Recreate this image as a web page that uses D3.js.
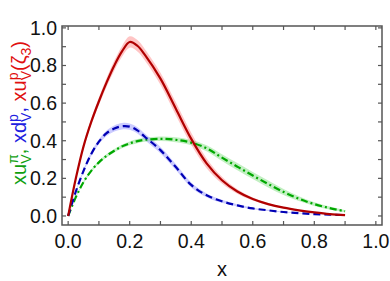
<!DOCTYPE html>
<html><head><meta charset="utf-8">
<script src="https://cdn.jsdelivr.net/npm/d3@7"></script>
<style>body{margin:0;background:#fff}svg{display:block}text{font-family:"Liberation Sans",Arial,sans-serif}</style>
</head><body><svg id="c" width="390" height="281"></svg>
<script>
const xs      = [0,0.025,0.05,0.075,0.1,0.125,0.15,0.175,0.2,0.225,0.25,0.3,0.35,0.4,0.45,0.5,0.55,0.6,0.65,0.7,0.75,0.8,0.85,0.9];
const protonU = [0,0.2,0.37,0.5,0.61,0.71,0.8,0.875,0.925,0.905,0.855,0.73,0.57,0.41,0.28,0.19,0.13,0.09,0.063,0.044,0.03,0.019,0.01,0.005];
const protonUErr = [0,0.008,0.012,0.016,0.02,0.023,0.026,0.028,0.03,0.03,0.03,0.032,0.034,0.032,0.026,0.018,0.012,0.008,0.006,0.004,0.003,0.002,0.002,0.001];
const protonD = [0,0.13,0.24,0.33,0.395,0.44,0.465,0.477,0.475,0.455,0.42,0.35,0.26,0.165,0.11,0.078,0.056,0.04,0.03,0.021,0.015,0.01,0.007,0.005];
const protonDErr = [0,0.005,0.008,0.011,0.013,0.015,0.016,0.017,0.017,0.017,0.017,0.017,0.016,0.013,0.01,0.008,0.006,0.004,0.003,0.002,0.002,0.001,0.001,0.001];
const pionU   = [0,0.1,0.18,0.24,0.285,0.32,0.347,0.37,0.386,0.398,0.405,0.41,0.405,0.39,0.36,0.31,0.262,0.215,0.17,0.128,0.092,0.063,0.042,0.025];
const pionUErr = [0,0.004,0.006,0.007,0.008,0.009,0.009,0.01,0.01,0.011,0.011,0.012,0.013,0.014,0.016,0.018,0.019,0.019,0.018,0.016,0.013,0.01,0.008,0.006];
const xTicks = [0,0.2,0.4,0.6,0.8,1.0];
const yTicks = [0,0.2,0.4,0.6,0.8,1.0];
const minorTicks = [0,0.1,0.2,0.3,0.4,0.5,0.6,0.7,0.8,0.9,1.0];

const svg = d3.select("#c");
const L=62,R=382,T=26,B=225;
const x = d3.scaleLinear().domain([-0.02,1.02]).range([L,R]);
const y = d3.scaleLinear().domain([-0.048,1.01]).range([B,T]);

const series = [
  {v:pionU, e:pionUErr, line:"#00a800", band:"rgba(120,220,120,0.45)", dash:"7,3,2,3"},
  {v:protonD, e:protonDErr, line:"#0000b4", band:"rgba(140,140,255,0.45)", dash:"7,4"},
  {v:protonU, e:protonUErr, line:"#b00000", band:"rgba(255,140,140,0.5)", dash:null}
];
svg.append("clipPath").attr("id","cp").append("rect").attr("x",L).attr("y",T).attr("width",R-L).attr("height",B-T);
const g = svg.append("g").attr("clip-path","url(#cp)");
const crv = d3.curveCatmullRom.alpha(0.5);
const area = d3.area().x((d,i)=>x(xs[i])).curve(crv);
const line = d3.line().x((d,i)=>x(xs[i])).y(d=>y(d)).curve(crv);
series.forEach(s=>{
  g.append("path").datum(s.v)
    .attr("d", area.y0((d,i)=>y(d-s.e[i])).y1((d,i)=>y(d+s.e[i])))
    .attr("fill", s.band);
});
series.forEach(s=>{
  g.append("path").datum(s.v).attr("d", line)
    .attr("fill","none").attr("stroke",s.line).attr("stroke-width",2.2)
    .attr("stroke-dasharray", s.dash);
});

// frame
const axc = "#555";
svg.append("rect").attr("x",L).attr("y",T).attr("width",R-L).attr("height",B-T)
  .attr("fill","none").attr("stroke",axc).attr("stroke-width",1.5);
const tl = 4;
minorTicks.forEach(t=>{
  svg.append("line").attr("x1",x(t)).attr("x2",x(t)).attr("y1",B).attr("y2",B-tl).attr("stroke",axc).attr("stroke-width",1.2);
  svg.append("line").attr("x1",x(t)).attr("x2",x(t)).attr("y1",T).attr("y2",T+tl).attr("stroke",axc).attr("stroke-width",1.2);
  svg.append("line").attr("y1",y(t)).attr("y2",y(t)).attr("x1",L).attr("x2",L+tl).attr("stroke",axc).attr("stroke-width",1.2);
  svg.append("line").attr("y1",y(t)).attr("y2",y(t)).attr("x1",R).attr("x2",R-tl).attr("stroke",axc).attr("stroke-width",1.2);
});
xTicks.forEach(t=>{
  svg.append("text").attr("x",x(t)).attr("y",248).attr("text-anchor","middle")
    .attr("font-size",19.5).attr("fill","#111").text(t.toFixed(1));
});
yTicks.forEach(t=>{
  svg.append("text").attr("x",57).attr("y",y(t)+7).attr("text-anchor","end")
    .attr("font-size",19.5).attr("fill","#111").text(t.toFixed(1));
});
svg.append("text").attr("x",x(0.5)).attr("y",276).attr("text-anchor","middle")
  .attr("font-size",20).attr("fill","#111").text("x");

// y label with stacked sub/superscripts
const lab = svg.append("text").attr("font-size",20).attr("transform","translate(26,0) rotate(-90)");
const parts = [
  {c:"#10a010", base:"xu", sub:"V", sup:"π", tail:", "},
  {c:"#2020e0", base:"xd", sub:"V", sup:"p", tail:", "},
  {c:"#e01010", base:"xu", sub:"V", sup:"p", tail:"(ζ", sub2:"3", tail2:")"}
];
parts.forEach(p=>{
  lab.append("tspan").attr("fill",p.c).text(p.base);
  const sp = lab.append("tspan").attr("fill",p.c).attr("font-size",14).attr("dy",-8).text(p.sup);
  const ws = sp.node().getComputedTextLength();
  const sb = lab.append("tspan").attr("fill",p.c).attr("font-size",14).attr("dx",-ws).attr("dy",13).text(p.sub);
  const wb = sb.node().getComputedTextLength();
  lab.append("tspan").attr("fill",p.c).attr("dy",-5).attr("dx",Math.max(0,ws-wb)).text(p.tail);
  if(p.sub2){
    lab.append("tspan").attr("fill",p.c).attr("font-size",14).attr("dy",5).text(p.sub2);
    lab.append("tspan").attr("fill",p.c).attr("dy",-5).text(p.tail2);
  }
});
const bb = lab.node().getBBox();
lab.attr("x", -113 - bb.width/2).attr("y", 0);
</script></body></html>
